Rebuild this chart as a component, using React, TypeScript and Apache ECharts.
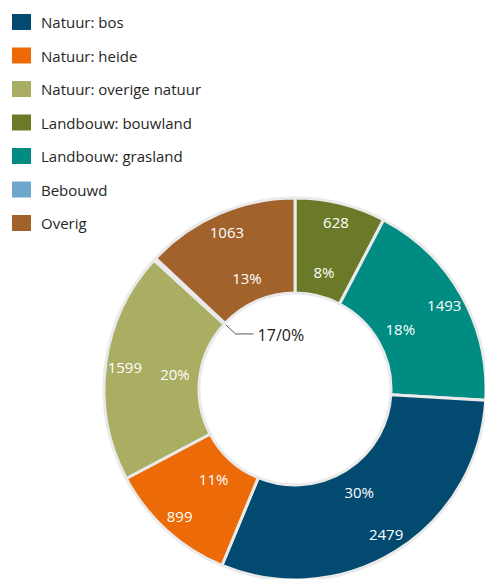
import React, { useEffect, useRef } from "react";
import * as echarts from "echarts";

// Legend order
const categories = [
  "Natuur: bos",
  "Natuur: heide",
  "Natuur: overige natuur",
  "Landbouw: bouwland",
  "Landbouw: grasland",
  "Bebouwd",
  "Overig",
];
const values = [2479, 899, 1599, 628, 1493, 17, 1063];
const colors = ["#024a70", "#ec6a08", "#a9ae63", "#6b7a28", "#008c82", "#6ea6cc", "#a1632b"];
// Clockwise slice order starting at 12 o'clock (indices into categories)
const sliceOrder = [3, 4, 0, 1, 2, 5, 6];

export default function App() {
  const ref = useRef<HTMLDivElement>(null);
  useEffect(() => {
    const chart = echarts.init(ref.current!, null, { renderer: "svg" });
    const cx = 295;
    const cy = 389;
    const rIn = 96;
    const rOut = 191;
    const font = "'Open Sans', sans-serif";
    const sliceData = sliceOrder.map((i) => ({
      name: categories[i],
      value: values[i],
      itemStyle: { color: colors[i] },
    }));
    const total = values.reduce((a, b) => a + b, 0);
    const smallIdx = sliceData.findIndex((d) => d.value / total < 0.005);

    const mainData = sliceData.map((d, k) =>
      k === smallIdx
        ? {
            ...d,
            label: {
              show: true,
              position: "outside",
              formatter: "{c}/{d}%",
              color: "#1a1a1a",
              fontSize: 16,
              fontFamily: font,
            },
            labelLine: { show: true, lineStyle: { color: "#555", width: 1 } },
          }
        : d
    );

    const overlay = (radius: number[], formatter: string) => ({
      type: "pie",
      radius,
      center: [cx, cy],
      startAngle: 90,
      clockwise: true,
      silent: true,
      legendHoverLink: false,
      percentPrecision: 0,
      minShowLabelAngle: 2,
      avoidLabelOverlap: false,
      data: sliceData.map((d) => ({ name: d.name, value: d.value })),
      itemStyle: { color: "transparent", borderWidth: 0 },
      label: {
        show: true,
        position: "inside",
        formatter,
        color: "#ffffff",
        fontSize: 15,
        fontFamily: font,
      },
      labelLine: { show: false },
      emphasis: { disabled: true },
    });

    chart.setOption({
      animation: false,
      legend: {
        orient: "vertical",
        left: 12,
        top: 14,
        padding: 0,
        itemWidth: 19,
        itemHeight: 16,
        itemGap: 17.5,
        icon: "rect",
        selectedMode: false,
        data: categories,
        itemStyle: { borderWidth: 0 },
        textStyle: {
          fontSize: 15,
          color: "#262626",
          fontFamily: font,
          lineHeight: 16,
          padding: [0, 0, 0, 5],
        },
      },
      series: [
        {
          type: "pie",
          radius: [rIn, rOut],
          center: [cx, cy],
          startAngle: 90,
          clockwise: true,
          percentPrecision: 0,
          avoidLabelOverlap: false,
          data: mainData,
          itemStyle: { borderColor: "#eaeaea", borderWidth: 3 },
          label: { show: false },
          labelLine: { show: false },
          emphasis: { disabled: true },
          labelLayout: (params: any) => {
            if (params.dataIndex !== smallIdx) return {};
            let cum = 0;
            for (let k = 0; k < smallIdx; k++) cum += sliceData[k].value;
            const mid = ((90 - ((cum + sliceData[smallIdx].value / 2) / total) * 360) * Math.PI) / 180;
            const p0 = [cx + rIn * Math.cos(mid), cy - rIn * Math.sin(mid)];
            const p1 = [cx + 81 * Math.cos(mid), cy - 81 * Math.sin(mid)];
            const p2 = [p1[0] + 18, p1[1]];
            return {
              x: p2[0] + 4,
              y: p2[1] + 1,
              align: "left",
              verticalAlign: "middle",
              labelLinePoints: [p0, p1, p2],
            };
          },
        },
        overlay([146, rOut], "{c}"),
        overlay([rIn, 140], "{d}%"),
      ],
    });
    return () => chart.dispose();
  }, []);
  return (
    <div
      ref={ref}
      style={{ position: "absolute", left: 0, top: 0, width: 485, height: 579 }}
    />
  );
}
